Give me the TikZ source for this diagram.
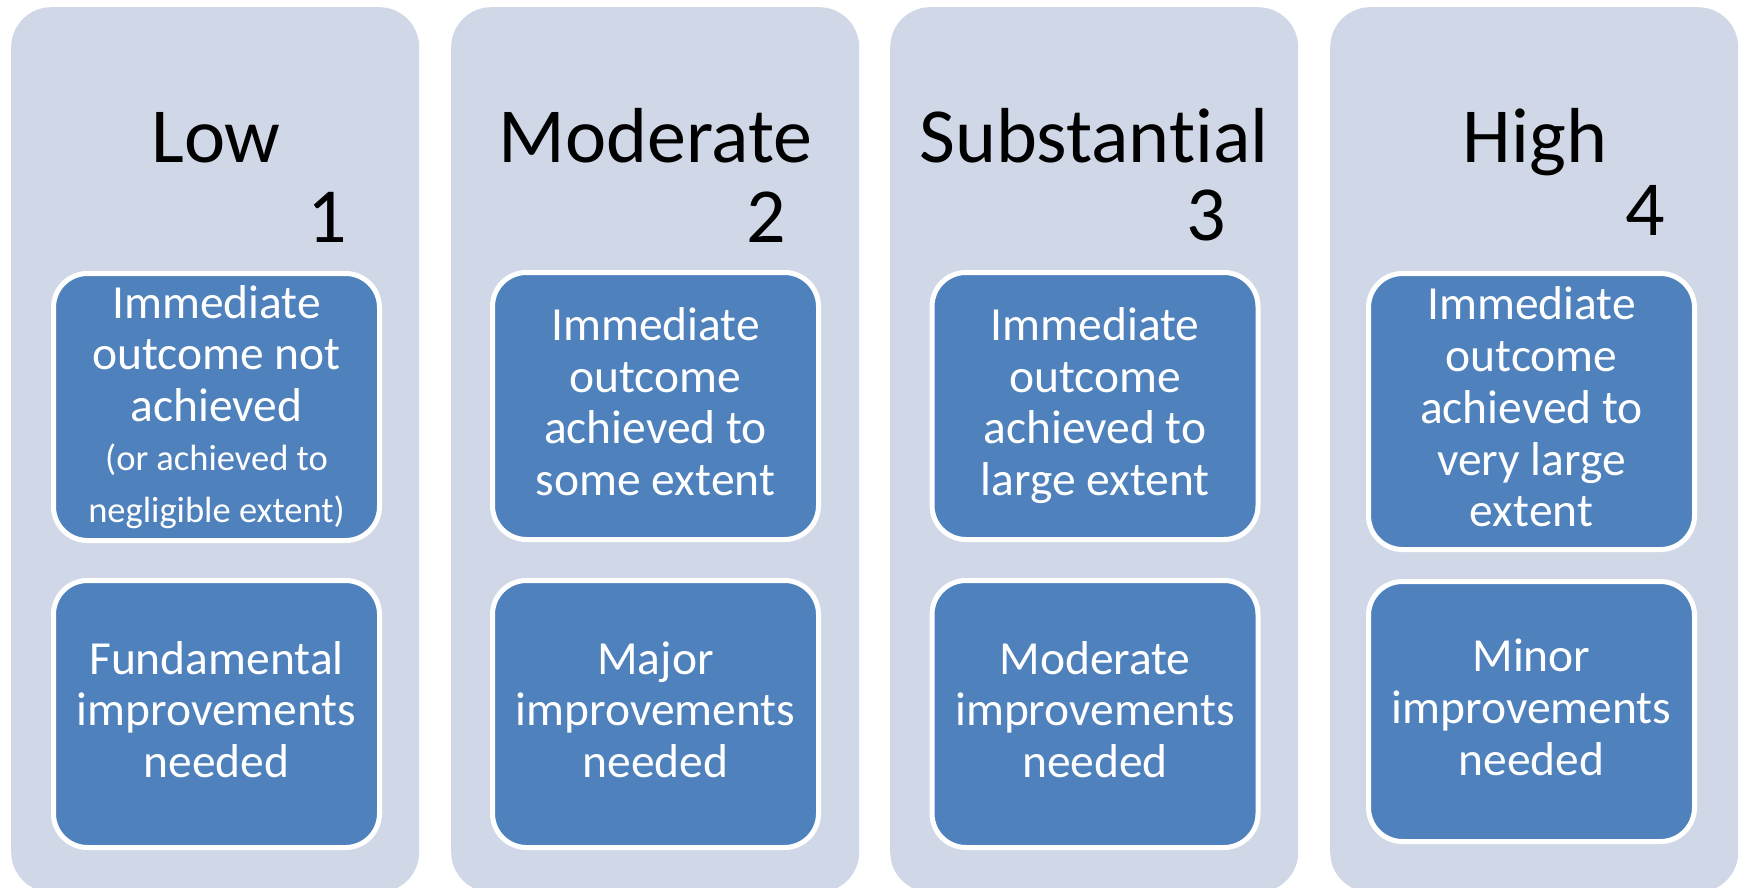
\documentclass[tikz,border=0pt]{standalone}
\usepackage{fontspec}
\newfontfamily\carl[Ligatures={NoCommon,NoRequired,NoContextual}]{Carlito}
\definecolor{colbg}{HTML}{D0D8E8}
\definecolor{boxblue}{HTML}{4F81BD}
\newcommand\hdfont{\carl\fontsize{78}{80}\selectfont}
\newcommand\bxfont{\carl\fontsize{47.5}{51.7}\selectfont}
\newcommand\smfont{\fontsize{36.5}{37}\selectfont}
\newcommand\stT{\rule{0pt}{0.75em}}
\newcommand\stB{\rule[-0.25em]{0pt}{0.25em}}
\begin{document}
\begin{tikzpicture}[x=1pt,y=-1pt,
  colbox/.style={rectangle, rounded corners=40pt, fill=colbg, minimum width=408pt,
    minimum height=885pt, inner sep=0pt, anchor=north west},
  cellbox/.style={rectangle, rounded corners=34pt, fill=boxblue, draw=white, line width=5pt,
    minimum width=326pt, text width=320pt, align=flush center, text=white, font=\bxfont, inner sep=0pt},
  headtxt/.style={font=\hdfont, inner sep=0pt, anchor=base, text=black},
  numtxt/.style={font=\hdfont, inner sep=0pt, anchor=base east, text=black}]
\useasboundingbox (0,0) rectangle (1743,888);
% columns
\node[colbox] (c1) at (11,7) {};
\node[colbox] (c2) at (451,7) {};
\node[colbox] (c3) at (890,7) {};
\node[colbox] (c4) at (1330,7) {};
% headers
\node[headtxt] (h1) at (216,163) {Low};
\node[headtxt] (h2) at (655.5,163) {Moderate};
\node[headtxt] (h3) at (1094,163) {Substantial};
\node[headtxt] (h4) at (1535,163) {High};
\node[numtxt] (n1) at (347,242) {1};
\node[numtxt] (n2) at (786,242) {2};
\node[numtxt] (n3) at (1226,240) {3};
\node[numtxt] (n4) at (1665,235) {4};
% top boxes
\node[cellbox, minimum height=267pt] (t1) at (216.5,407)
  {\stT Immediate\\outcome not\\achieved\par\vspace{12pt}\smfont (or achieved to\\negligible extent)\stB};
\node[cellbox, minimum height=267pt] (t2) at (655.5,406)
  {\stT Immediate\\outcome\\achieved to\\some extent\stB};
\node[cellbox, minimum height=267pt] (t3) at (1095,406)
  {\stT Immediate\\outcome\\achieved to\\large extent\stB};
\node[cellbox, minimum height=276pt] (t4) at (1531.5,411.5)
  {\stT Immediate\\outcome\\achieved to\\very large\\extent\stB};
% bottom boxes
\node[cellbox, minimum height=267pt] (b1) at (216.5,714)
  {\stT Fundamental\\improvements\\needed\stB};
\node[cellbox, minimum height=267pt] (b2) at (655.5,714)
  {\stT Major\\improvements\\needed\stB};
\node[cellbox, minimum height=267pt] (b3) at (1095,714)
  {\stT Moderate\\improvements\\needed\stB};
\node[cellbox, minimum height=260pt] (b4) at (1531.5,711.5)
  {\stT Minor\\improvements\\needed\stB};
\end{tikzpicture}
\end{document}
